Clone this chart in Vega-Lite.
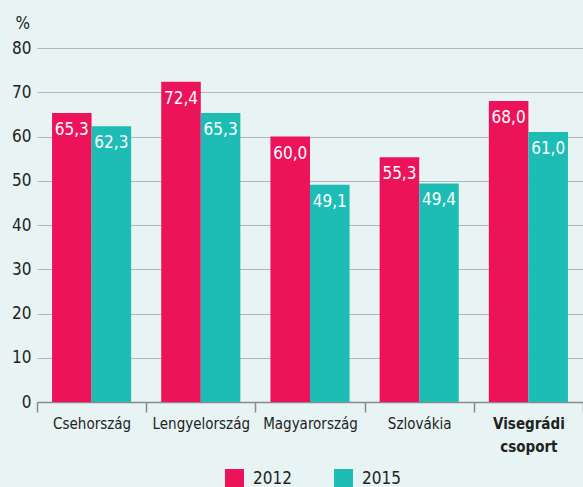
{
  "$schema": "https://vega.github.io/schema/vega-lite/v6.json",
  "width": 546,
  "height": 354,
  "autosize": {"type": "none"},
  "padding": {"left": 37, "top": 48, "right": 0, "bottom": 85},
  "background": "#e8f4f4",
  "config": {
    "view": {"stroke": null},
    "font": "Liberation Sans Narrow, DejaVu Sans Condensed, sans-serif",
    "locale": {"number": {"decimal": ",", "thousands": " ", "grouping": [3], "currency": ["", ""]}}
  },
  "data": {
    "values": [
      {"country": "Csehország", "year": "2012", "value": 65.3},
      {"country": "Csehország", "year": "2015", "value": 62.3},
      {"country": "Lengyelország", "year": "2012", "value": 72.4},
      {"country": "Lengyelország", "year": "2015", "value": 65.3},
      {"country": "Magyarország", "year": "2012", "value": 60.0},
      {"country": "Magyarország", "year": "2015", "value": 49.1},
      {"country": "Szlovákia", "year": "2012", "value": 55.3},
      {"country": "Szlovákia", "year": "2015", "value": 49.4},
      {"country": "Visegrádi csoport", "year": "2012", "value": 68.0},
      {"country": "Visegrádi csoport", "year": "2015", "value": 61.0}
    ]
  },
  "encoding": {
    "x": {
      "field": "country",
      "type": "nominal",
      "sort": null,
      "scale": {"paddingInner": 0, "paddingOuter": 0},
      "axis": {
        "title": null,
        "labelAngle": 0,
        "tickBand": "extent",
        "tickSize": 10,
        "tickColor": "#8a8a8a",
        "tickWidth": 1.5,
        "domainColor": "#8a8a8a",
        "domainWidth": 1.5,
        "labelFontSize": 15,
        "labelColor": "#222222",
        "labelPadding": 4,
        "labelLineHeight": 23,
        "labelExpr": "datum.value == 'Visegrádi csoport' ? ['Visegrádi', 'csoport'] : datum.label",
        "labelFontWeight": {"condition": {"test": "datum.value == 'Visegrádi csoport'", "value": "bold"}, "value": "normal"}
      }
    },
    "xOffset": {"field": "year", "type": "nominal", "scale": {"paddingInner": 0, "paddingOuter": 0.38}},
    "y": {
      "field": "value",
      "type": "quantitative",
      "scale": {"domain": [0, 80]},
      "axis": {
        "values": [0, 10, 20, 30, 40, 50, 60, 70, 80],
        "domain": false,
        "ticks": false,
        "grid": true,
        "gridColor": "#b3b6b6",
        "gridWidth": 1.2,
        "labelFontSize": 17,
        "labelColor": "#222222",
        "labelPadding": 6,
        "title": "%",
        "titleAngle": 0,
        "titleFontSize": 17,
        "titleFontWeight": "normal",
        "titleColor": "#222222",
        "titleAlign": "left",
        "titleBaseline": "alphabetic",
        "titleX": -22,
        "titleY": -20
      }
    }
  },
  "layer": [
    {
      "mark": {"type": "bar"},
      "encoding": {
        "color": {
          "field": "year",
          "type": "nominal",
          "scale": {"range": ["#ec135a", "#1dbdb6"]},
          "legend": {
            "title": null,
            "orient": "none",
            "direction": "horizontal",
            "legendX": 188,
            "legendY": 421,
            "padding": 0,
            "symbolType": "square",
            "symbolSize": 361,
            "symbolStrokeWidth": 0,
            "symbolOpacity": 1,
            "labelFontSize": 17,
            "labelColor": "#222222",
            "labelOffset": 9,
            "columnPadding": 42
          }
        }
      }
    },
    {
      "mark": {"type": "text", "baseline": "top", "dy": 9, "color": "white", "fontSize": 17},
      "encoding": {
        "text": {"field": "value", "type": "quantitative", "format": ".1f"}
      }
    }
  ]
}
